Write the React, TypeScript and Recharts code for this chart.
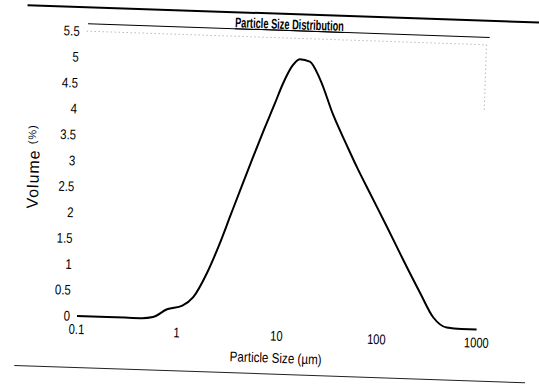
import React from "react";
import { LineChart, Line, XAxis, YAxis, ReferenceLine, Label } from "recharts";

const particleSizes = [0.1, 0.2, 0.3, 0.43, 0.575, 0.79, 1.12, 1.43, 1.93, 2.51, 3.16, 3.98, 5.01, 6.31, 7.94, 9.55, 11.7, 13.8, 17.4, 22.4, 31, 44, 56, 77, 117, 174, 264, 363, 500, 700, 1000];
const volumes = [0, 0, 0, 0, 0.03, 0.19, 0.27, 0.44, 0.92, 1.48, 2.04, 2.6, 3.15, 3.69, 4.2, 4.62, 4.97, 5.1, 5.06, 4.72, 4.05, 3.45, 3.05, 2.56, 1.92, 1.3, 0.67, 0.21, 0.02, 0, 0];
const xTicks = [0.1, 1, 10, 100, 1000];
const yTicks = [0, 0.5, 1, 1.5, 2, 2.5, 3, 3.5, 4, 4.5, 5, 5.5];
const title = "Particle Size Distribution";
const xLabel = "Particle Size (\u00b5m)";
const yLabelMain = "Volume";
const yLabelUnit = "(%)";

const data = particleSizes.map((s, i) => ({ size: s, volume: volumes[i] }));

const sans = "'Liberation Sans', Arial, sans-serif";

const YTick = (props: any) => {
  const { x, y, payload } = props;
  return (
    <g transform={`translate(${x},${y}) scale(0.82,1)`}>
      <text x={0} y={0} dy="0.355em" textAnchor="end" fontFamily={sans} fontSize={14} fill="#000">
        {String(payload.value)}
      </text>
    </g>
  );
};

const XTick = (props: any) => {
  const { x, y, payload } = props;
  return (
    <g transform={`translate(${x},${y}) scale(0.8,1)`}>
      <text x={0} y={0} dy="0.71em" textAnchor="middle" fontFamily={sans} fontSize={14} fill="#000">
        {String(payload.value)}
      </text>
    </g>
  );
};

const XLabelContent = (props: any) => {
  const vb = props.viewBox || {};
  const cx = (vb.x ?? 77) + (vb.width ?? 400) / 2;
  const by = (vb.y ?? 316) + 40;
  return (
    <g transform={`translate(${cx},${by}) scale(0.83,1)`}>
      <text x={0} y={0} textAnchor="middle" fontFamily={sans} fontSize={14} fill="#000">
        {xLabel}
      </text>
    </g>
  );
};

const YLabelContent = () => {
  return (
    <g transform={`translate(34,168) rotate(-90)`}>
      <text x={0} y={0} textAnchor="middle" fontFamily={sans} fill="#000">
        <tspan fontSize={16} letterSpacing={1}>{yLabelMain}</tspan>
        <tspan fontSize={11} dx={5} dy={-4} letterSpacing={1}>{yLabelUnit}</tspan>
      </text>
    </g>
  );
};

export default function App() {
  return (
    <div style={{ position: "absolute", left: 0, top: 0, width: 539, height: 391, overflow: "hidden", background: "#fff" }}>
      <style>{`body{overflow:hidden;margin:0;background:#fff}`}</style>
      <div
        style={{
          position: "absolute",
          left: 0,
          top: 0,
          width: 539,
          height: 391,
          transform: "rotate(1.95deg)",
          transformOrigin: "77px 316px",
        }}
      >
        <div style={{ position: "absolute", left: 17, top: 6, width: 512, height: 0, borderTop: "2px solid #000" }} />
        <div style={{ position: "absolute", left: 16, top: 367, width: 511, height: 0, borderTop: "1.5px solid #222" }} />
        <div
          style={{
            position: "absolute",
            left: 78,
            top: 8,
            width: 402,
            height: 15,
            borderBottom: "1.5px solid #000",
            textAlign: "center",
            color: "#000",
          }}
        >
          <span
            style={{
              display: "inline-block",
              fontFamily: sans,
              fontWeight: "bold",
              fontSize: 14,
              lineHeight: "15px",
              transform: "scaleX(0.66)",
              transformOrigin: "50% 50%",
              textDecoration: "underline",
              whiteSpace: "nowrap",
            }}
          >
            {title}
          </span>
        </div>
        <LineChart width={539} height={391} data={data} margin={{ top: 31, right: 62, bottom: 0, left: 7 }}>
          <XAxis
            dataKey="size"
            type="number"
            scale="log"
            domain={[0.1, 1000]}
            ticks={xTicks}
            allowDataOverflow
            axisLine={false}
            tickLine={false}
            height={75}
            tickSize={6}
            tickMargin={2}
            tick={<XTick />}
          >
            <Label content={<XLabelContent />} />
          </XAxis>
          <YAxis
            type="number"
            domain={[0, 5.5]}
            ticks={yTicks}
            axisLine={false}
            tickLine={false}
            width={70}
            tickSize={4}
            tickMargin={3}
            tick={<YTick />}
          >
            <Label content={<YLabelContent />} />
          </YAxis>
          <ReferenceLine y={5.5} stroke="#999" strokeDasharray="1 3" />
          <ReferenceLine segment={[{ x: 1000, y: 5.5 }, { x: 1000, y: 4.2 }]} stroke="#999" strokeDasharray="1 3" />
          <Line
            type="monotone"
            dataKey="volume"
            stroke="#000"
            strokeWidth={2}
            dot={false}
            isAnimationActive={false}
          />
        </LineChart>
      </div>
    </div>
  );
}
